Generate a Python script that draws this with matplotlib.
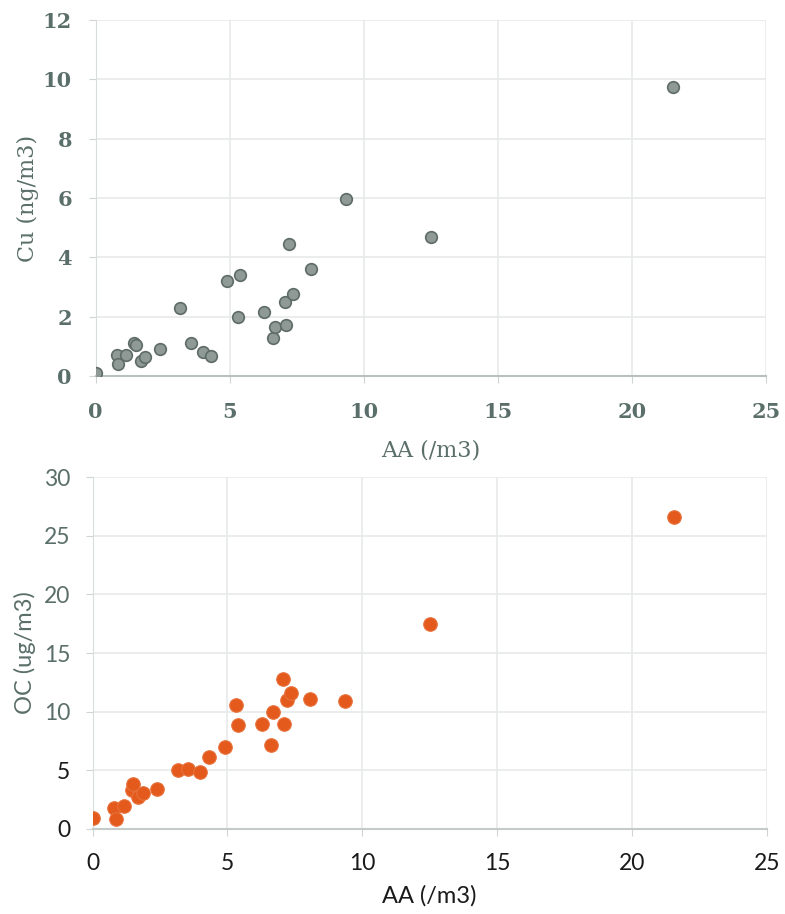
import matplotlib.pyplot as plt
import numpy as np

# AA concentration (/m3), shared by both panels
aa = [0.0, 0.8, 0.85, 1.15, 1.45, 1.5, 1.7, 1.85, 2.4, 3.15, 3.55, 4.0, 4.3, 4.9,
      5.3, 5.4, 6.3, 6.6, 6.7, 7.05, 7.1, 7.2, 7.35, 8.05, 9.35, 12.5, 21.55]

# Cu (ng/m3)
cu = [0.1, 0.7, 0.4, 0.7, 1.1, 1.05, 0.5, 0.65, 0.9, 2.3, 1.1, 0.8, 0.67, 3.2,
      2.0, 3.4, 2.15, 1.27, 1.66, 2.5, 1.72, 4.46, 2.75, 3.6, 5.98, 4.7, 9.73]

# OC (ug/m3)
oc = [0.9, 1.8, 0.85, 2.0, 3.3, 3.85, 2.75, 3.05, 3.4, 5.0, 5.1, 4.9, 6.1, 6.95,
      10.6, 8.9, 8.95, 7.15, 10.0, 12.8, 8.95, 11.0, 11.55, 11.1, 10.95, 17.5, 26.6]

x_ticks = [0, 5, 10, 15, 20, 25]
cu_ticks = [0, 2, 4, 6, 8, 10, 12]
oc_ticks = [0, 5, 10, 15, 20, 25, 30]

green = '#5b6f6a'
grid_c = '#e6eae8'

fig = plt.figure(figsize=(7.85, 9.14), dpi=100)

# ---- top panel: Cu vs AA
ax1 = fig.add_axes([0.1217, 0.5886, 0.8541, 0.3895])
ax1.scatter(aa, cu, s=70, facecolor='#8f9a96', edgecolor='#5e6b66',
            linewidth=1.2, zorder=3)
ax1.set_xlim(0, 25)
ax1.set_ylim(0, 12)
ax1.set_xticks(x_ticks)
ax1.set_yticks(cu_ticks)
ax1.grid(True, color=grid_c, linewidth=1.2)
for s in ['top', 'right']:
    ax1.spines[s].set_visible(False)
ax1.spines['left'].set_color('#d8dddb')
ax1.spines['bottom'].set_color('#b9c0bd')
ax1.spines['bottom'].set_linewidth(1.5)
ax1.tick_params(axis='y', length=5, color='#cfd5d2', labelcolor=green, pad=12)
ax1.tick_params(axis='x', length=5, color='#cfd5d2', labelcolor=green, pad=14)
for lab in ax1.get_xticklabels() + ax1.get_yticklabels():
    lab.set_fontfamily('DejaVu Serif')
    lab.set_fontsize(15)
    lab.set_fontweight('bold')
ax1.set_xlabel('AA (/m3)', family='DejaVu Serif', fontsize=16, color=green,
               labelpad=12)
ax1.set_ylabel('Cu (ng/m3)', family='DejaVu Serif', fontsize=16, color=green,
               labelpad=3)

# ---- bottom panel: OC vs AA
ax2 = fig.add_axes([0.118, 0.093, 0.8587, 0.3851])
ax2.scatter(aa, oc, s=95, facecolor='#e35a1c', edgecolor='#e8703a',
            linewidth=0.8, zorder=3)
ax2.set_xlim(0, 25)
ax2.set_ylim(0, 30)
ax2.set_xticks(x_ticks)
ax2.set_yticks(oc_ticks)
ax2.grid(True, color=grid_c, linewidth=1.2)
for s in ['top', 'right']:
    ax2.spines[s].set_visible(False)
ax2.spines['left'].set_color('#d8dddb')
ax2.spines['bottom'].set_color('#c5cbc8')
ax2.spines['bottom'].set_linewidth(1.5)
ax2.tick_params(axis='y', length=5, color='#cfd5d2', labelcolor='#1a1a1a', pad=11)
ax2.tick_params(axis='x', length=5, color='#cfd5d2', labelcolor='#1a1a1a', pad=12)
for lab in ax2.get_xticklabels() + ax2.get_yticklabels():
    lab.set_fontfamily('Lato')
    lab.set_fontsize(16.5)
for lab, v in zip(ax2.get_yticklabels(), oc_ticks):
    if v >= 10:
        lab.set_color(green)
ax2.set_xlabel('AA (/m3)', family='Lato', fontsize=17, color='#1a1a1a',
               labelpad=8)
ax2.set_ylabel('OC (ug/m3)', family='Lato', fontsize=17, color=green,
               labelpad=6)

fig.savefig('out.png', dpi=100)
